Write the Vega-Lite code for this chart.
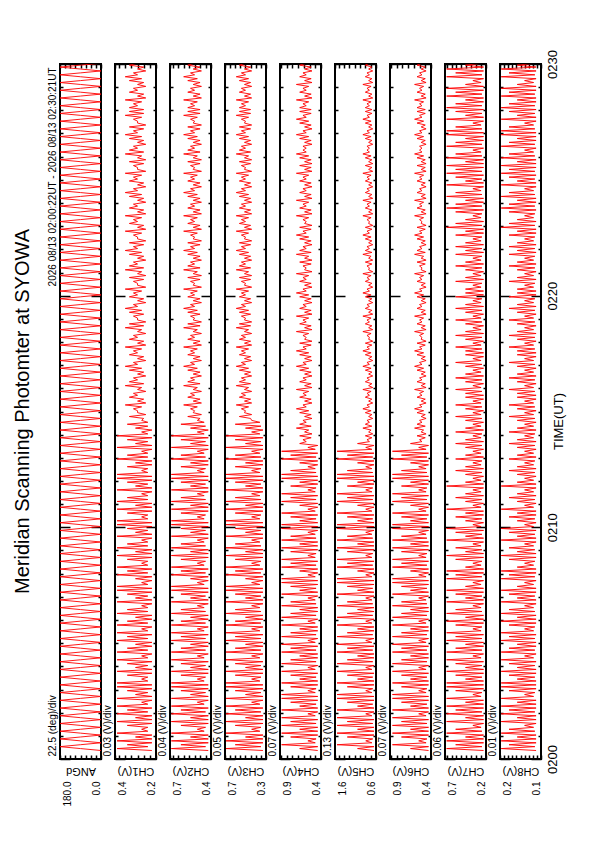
{
  "$schema": "https://vega.github.io/schema/vega-lite/v6.json",
  "background": "white",
  "padding": {"left": 12, "top": 48, "right": 5, "bottom": 5},
  "title": {"text": "Meridian Scanning Photomter at SYOWA", "orient": "left", "anchor": "middle", "frame": "group", "fontSize": 20, "offset": 14},
  "data": {"values": [
{"t":22,"a":0,"c1":0.22,"c2":0.42,"c3":0.33,"c4":0.44,"c5":0.65,"c6":0.43,"c7":0.23,"c8":0.112},
{"t":27,"a":90,"c1":0.39,"c2":0.69,"c3":0.69,"c4":0.66,"c5":1.05,"c6":0.65,"c7":0.68,"c8":0.197},
{"t":32,"a":180,"c1":0.24,"c2":0.44,"c3":0.35,"c4":0.44,"c5":0.65,"c6":0.43,"c7":0.25,"c8":0.115},
{"t":37,"a":90,"c1":0.34,"c2":0.62,"c3":0.60,"c4":0.88,"c5":1.55,"c6":0.87,"c7":0.57,"c8":0.178},
{"t":42,"a":0,"c1":0.22,"c2":0.42,"c3":0.33,"c4":0.47,"c5":0.70,"c6":0.46,"c7":0.23,"c8":0.112},
{"t":47,"a":90,"c1":0.39,"c2":0.69,"c3":0.69,"c4":0.56,"c5":0.85,"c6":0.55,"c7":0.68,"c8":0.197},
{"t":52,"a":180,"c1":0.22,"c2":0.42,"c3":0.33,"c4":0.46,"c5":0.68,"c6":0.45,"c7":0.23,"c8":0.112},
{"t":57,"a":90,"c1":0.30,"c2":0.55,"c3":0.50,"c4":0.77,"c5":1.30,"c6":0.76,"c7":0.45,"c8":0.158},
{"t":62,"a":0,"c1":0.22,"c2":0.42,"c3":0.33,"c4":0.44,"c5":0.65,"c6":0.43,"c7":0.23,"c8":0.112},
{"t":67,"a":90,"c1":0.39,"c2":0.69,"c3":0.69,"c4":0.88,"c5":1.55,"c6":0.87,"c7":0.68,"c8":0.197},
{"t":72,"a":180,"c1":0.24,"c2":0.45,"c3":0.36,"c4":0.44,"c5":0.65,"c6":0.43,"c7":0.25,"c8":0.115},
{"t":77,"a":90,"c1":0.27,"c2":0.50,"c3":0.44,"c4":0.66,"c5":1.05,"c6":0.65,"c7":0.57,"c8":0.178},
{"t":82,"a":0,"c1":0.24,"c2":0.44,"c3":0.35,"c4":0.44,"c5":0.65,"c6":0.43,"c7":0.26,"c8":0.118},
{"t":87,"a":90,"c1":0.34,"c2":0.62,"c3":0.60,"c4":0.88,"c5":1.55,"c6":0.87,"c7":0.36,"c8":0.14},
{"t":92,"a":180,"c1":0.22,"c2":0.42,"c3":0.33,"c4":0.46,"c5":0.68,"c6":0.45,"c7":0.23,"c8":0.112},
{"t":97,"a":90,"c1":0.39,"c2":0.69,"c3":0.69,"c4":0.77,"c5":1.30,"c6":0.76,"c7":0.68,"c8":0.197},
{"t":102,"a":0,"c1":0.22,"c2":0.42,"c3":0.33,"c4":0.44,"c5":0.65,"c6":0.43,"c7":0.23,"c8":0.112},
{"t":107,"a":90,"c1":0.30,"c2":0.55,"c3":0.50,"c4":0.88,"c5":1.55,"c6":0.87,"c7":0.45,"c8":0.158},
{"t":112,"a":180,"c1":0.22,"c2":0.42,"c3":0.33,"c4":0.47,"c5":0.70,"c6":0.46,"c7":0.23,"c8":0.112},
{"t":117,"a":90,"c1":0.39,"c2":0.69,"c3":0.69,"c4":0.56,"c5":0.85,"c6":0.55,"c7":0.68,"c8":0.197},
{"t":122,"a":0,"c1":0.24,"c2":0.44,"c3":0.35,"c4":0.44,"c5":0.65,"c6":0.43,"c7":0.25,"c8":0.115},
{"t":127,"a":90,"c1":0.34,"c2":0.62,"c3":0.60,"c4":0.88,"c5":1.55,"c6":0.87,"c7":0.57,"c8":0.178},
{"t":132,"a":180,"c1":0.22,"c2":0.42,"c3":0.33,"c4":0.44,"c5":0.65,"c6":0.43,"c7":0.23,"c8":0.112},
{"t":137,"a":90,"c1":0.39,"c2":0.69,"c3":0.69,"c4":0.66,"c5":1.05,"c6":0.65,"c7":0.68,"c8":0.197},
{"t":142,"a":0,"c1":0.24,"c2":0.45,"c3":0.36,"c4":0.46,"c5":0.68,"c6":0.45,"c7":0.23,"c8":0.112},
{"t":147,"a":90,"c1":0.27,"c2":0.50,"c3":0.44,"c4":0.77,"c5":1.30,"c6":0.76,"c7":0.45,"c8":0.158},
{"t":152,"a":180,"c1":0.22,"c2":0.42,"c3":0.33,"c4":0.44,"c5":0.65,"c6":0.43,"c7":0.23,"c8":0.112},
{"t":157,"a":90,"c1":0.39,"c2":0.69,"c3":0.69,"c4":0.88,"c5":1.55,"c6":0.87,"c7":0.68,"c8":0.197},
{"t":162,"a":0,"c1":0.22,"c2":0.42,"c3":0.33,"c4":0.44,"c5":0.65,"c6":0.43,"c7":0.26,"c8":0.118},
{"t":167,"a":90,"c1":0.30,"c2":0.55,"c3":0.50,"c4":0.88,"c5":1.55,"c6":0.87,"c7":0.36,"c8":0.14},
{"t":172,"a":180,"c1":0.24,"c2":0.44,"c3":0.35,"c4":0.47,"c5":0.70,"c6":0.46,"c7":0.25,"c8":0.115},
{"t":177,"a":90,"c1":0.34,"c2":0.62,"c3":0.60,"c4":0.56,"c5":0.85,"c6":0.55,"c7":0.57,"c8":0.178},
{"t":182,"a":0,"c1":0.22,"c2":0.42,"c3":0.33,"c4":0.46,"c5":0.68,"c6":0.45,"c7":0.23,"c8":0.112},
{"t":187,"a":90,"c1":0.39,"c2":0.69,"c3":0.69,"c4":0.77,"c5":1.30,"c6":0.76,"c7":0.68,"c8":0.197},
{"t":192,"a":180,"c1":0.22,"c2":0.42,"c3":0.33,"c4":0.44,"c5":0.65,"c6":0.43,"c7":0.23,"c8":0.112},
{"t":197,"a":90,"c1":0.39,"c2":0.69,"c3":0.69,"c4":0.88,"c5":1.55,"c6":0.87,"c7":0.68,"c8":0.197},
{"t":202,"a":0,"c1":0.24,"c2":0.45,"c3":0.36,"c4":0.44,"c5":0.65,"c6":0.43,"c7":0.23,"c8":0.112},
{"t":207,"a":90,"c1":0.27,"c2":0.50,"c3":0.44,"c4":0.66,"c5":1.05,"c6":0.65,"c7":0.45,"c8":0.158},
{"t":212,"a":180,"c1":0.24,"c2":0.44,"c3":0.35,"c4":0.46,"c5":0.68,"c6":0.45,"c7":0.25,"c8":0.115},
{"t":217,"a":90,"c1":0.34,"c2":0.62,"c3":0.60,"c4":0.77,"c5":1.30,"c6":0.76,"c7":0.57,"c8":0.178},
{"t":222,"a":0,"c1":0.22,"c2":0.42,"c3":0.33,"c4":0.44,"c5":0.65,"c6":0.43,"c7":0.23,"c8":0.112},
{"t":227,"a":90,"c1":0.39,"c2":0.69,"c3":0.69,"c4":0.88,"c5":1.55,"c6":0.87,"c7":0.68,"c8":0.197},
{"t":232,"a":180,"c1":0.22,"c2":0.42,"c3":0.33,"c4":0.47,"c5":0.70,"c6":0.46,"c7":0.23,"c8":0.112},
{"t":237,"a":90,"c1":0.30,"c2":0.55,"c3":0.50,"c4":0.56,"c5":0.85,"c6":0.55,"c7":0.45,"c8":0.158},
{"t":242,"a":0,"c1":0.24,"c2":0.44,"c3":0.35,"c4":0.44,"c5":0.65,"c6":0.43,"c7":0.25,"c8":0.115},
{"t":247,"a":90,"c1":0.34,"c2":0.62,"c3":0.60,"c4":0.88,"c5":1.55,"c6":0.87,"c7":0.57,"c8":0.178},
{"t":252,"a":180,"c1":0.22,"c2":0.42,"c3":0.33,"c4":0.46,"c5":0.68,"c6":0.45,"c7":0.23,"c8":0.112},
{"t":257,"a":90,"c1":0.39,"c2":0.69,"c3":0.69,"c4":0.77,"c5":1.30,"c6":0.76,"c7":0.68,"c8":0.197},
{"t":262,"a":0,"c1":0.24,"c2":0.45,"c3":0.36,"c4":0.44,"c5":0.65,"c6":0.43,"c7":0.26,"c8":0.118},
{"t":267,"a":90,"c1":0.27,"c2":0.50,"c3":0.44,"c4":0.66,"c5":1.05,"c6":0.65,"c7":0.36,"c8":0.14},
{"t":272,"a":180,"c1":0.22,"c2":0.42,"c3":0.33,"c4":0.44,"c5":0.65,"c6":0.43,"c7":0.23,"c8":0.112},
{"t":277,"a":90,"c1":0.39,"c2":0.69,"c3":0.69,"c4":0.88,"c5":1.55,"c6":0.87,"c7":0.68,"c8":0.197},
{"t":282,"a":0,"c1":0.24,"c2":0.44,"c3":0.35,"c4":0.46,"c5":0.68,"c6":0.45,"c7":0.25,"c8":0.115},
{"t":287,"a":90,"c1":0.34,"c2":0.62,"c3":0.60,"c4":0.77,"c5":1.30,"c6":0.76,"c7":0.57,"c8":0.178},
{"t":292,"a":180,"c1":0.22,"c2":0.42,"c3":0.33,"c4":0.44,"c5":0.65,"c6":0.43,"c7":0.23,"c8":0.112},
{"t":297,"a":90,"c1":0.30,"c2":0.55,"c3":0.50,"c4":0.88,"c5":1.55,"c6":0.87,"c7":0.45,"c8":0.158},
{"t":302,"a":0,"c1":0.22,"c2":0.42,"c3":0.33,"c4":0.47,"c5":0.70,"c6":0.46,"c7":0.23,"c8":0.112},
{"t":307,"a":90,"c1":0.39,"c2":0.69,"c3":0.69,"c4":0.56,"c5":0.85,"c6":0.55,"c7":0.68,"c8":0.197},
{"t":312,"a":180,"c1":0.24,"c2":0.44,"c3":0.35,"c4":0.44,"c5":0.65,"c6":0.43,"c7":0.25,"c8":0.115},
{"t":317,"a":90,"c1":0.34,"c2":0.62,"c3":0.60,"c4":0.88,"c5":1.55,"c6":0.87,"c7":0.57,"c8":0.178},
{"t":322,"a":0,"c1":0.22,"c2":0.42,"c3":0.33,"c4":0.46,"c5":0.68,"c6":0.45,"c7":0.23,"c8":0.112},
{"t":327,"a":90,"c1":0.39,"c2":0.69,"c3":0.69,"c4":0.77,"c5":1.30,"c6":0.76,"c7":0.68,"c8":0.197},
{"t":332,"a":180,"c1":0.24,"c2":0.45,"c3":0.36,"c4":0.44,"c5":0.65,"c6":0.43,"c7":0.26,"c8":0.118},
{"t":337,"a":90,"c1":0.27,"c2":0.50,"c3":0.44,"c4":0.66,"c5":1.05,"c6":0.65,"c7":0.36,"c8":0.14},
{"t":342,"a":0,"c1":0.22,"c2":0.42,"c3":0.33,"c4":0.44,"c5":0.65,"c6":0.43,"c7":0.25,"c8":0.115},
{"t":347,"a":90,"c1":0.39,"c2":0.69,"c3":0.69,"c4":0.88,"c5":1.55,"c6":0.87,"c7":0.57,"c8":0.178},
{"t":352,"a":180,"c1":0.24,"c2":0.44,"c3":0.35,"c4":0.47,"c5":0.70,"c6":0.46,"c7":0.23,"c8":0.112},
{"t":357,"a":90,"c1":0.34,"c2":0.62,"c3":0.60,"c4":0.56,"c5":0.85,"c6":0.55,"c7":0.68,"c8":0.197},
{"t":362,"a":0,"c1":0.22,"c2":0.42,"c3":0.33,"c4":0.44,"c5":0.65,"c6":0.43,"c7":0.23,"c8":0.112},
{"t":367,"a":90,"c1":0.30,"c2":0.55,"c3":0.50,"c4":0.88,"c5":1.55,"c6":0.87,"c7":0.45,"c8":0.158},
{"t":372,"a":180,"c1":0.22,"c2":0.42,"c3":0.33,"c4":0.46,"c5":0.68,"c6":0.45,"c7":0.23,"c8":0.112},
{"t":377,"a":90,"c1":0.39,"c2":0.69,"c3":0.69,"c4":0.77,"c5":1.30,"c6":0.76,"c7":0.68,"c8":0.197},
{"t":382,"a":0,"c1":0.24,"c2":0.44,"c3":0.35,"c4":0.44,"c5":0.65,"c6":0.43,"c7":0.25,"c8":0.115},
{"t":387,"a":90,"c1":0.34,"c2":0.62,"c3":0.60,"c4":0.66,"c5":1.05,"c6":0.65,"c7":0.57,"c8":0.178},
{"t":392,"a":180,"c1":0.24,"c2":0.45,"c3":0.36,"c4":0.44,"c5":0.65,"c6":0.43,"c7":0.26,"c8":0.118},
{"t":397,"a":90,"c1":0.27,"c2":0.50,"c3":0.44,"c4":0.88,"c5":1.55,"c6":0.87,"c7":0.36,"c8":0.14},
{"t":402,"a":0,"c1":0.22,"c2":0.42,"c3":0.33,"c4":0.46,"c5":0.68,"c6":0.45,"c7":0.23,"c8":0.112},
{"t":407,"a":90,"c1":0.39,"c2":0.69,"c3":0.69,"c4":0.77,"c5":1.30,"c6":0.76,"c7":0.68,"c8":0.197},
{"t":412,"a":180,"c1":0.22,"c2":0.42,"c3":0.33,"c4":0.47,"c5":0.70,"c6":0.46,"c7":0.23,"c8":0.112},
{"t":417,"a":90,"c1":0.30,"c2":0.55,"c3":0.50,"c4":0.56,"c5":0.85,"c6":0.55,"c7":0.45,"c8":0.158},
{"t":422,"a":0,"c1":0.24,"c2":0.44,"c3":0.35,"c4":0.44,"c5":0.65,"c6":0.43,"c7":0.25,"c8":0.115},
{"t":427,"a":90,"c1":0.34,"c2":0.62,"c3":0.60,"c4":0.88,"c5":1.55,"c6":0.87,"c7":0.57,"c8":0.178},
{"t":432,"a":180,"c1":0.22,"c2":0.42,"c3":0.33,"c4":0.44,"c5":0.65,"c6":0.43,"c7":0.23,"c8":0.112},
{"t":437,"a":90,"c1":0.39,"c2":0.69,"c3":0.69,"c4":0.66,"c5":1.05,"c6":0.65,"c7":0.68,"c8":0.197},
{"t":442,"a":0,"c1":0.22,"c2":0.42,"c3":0.33,"c4":0.46,"c5":0.68,"c6":0.45,"c7":0.23,"c8":0.112},
{"t":447,"a":90,"c1":0.39,"c2":0.69,"c3":0.69,"c4":0.77,"c5":1.30,"c6":0.76,"c7":0.45,"c8":0.158},
{"t":452,"a":180,"c1":0.24,"c2":0.45,"c3":0.36,"c4":0.44,"c5":0.65,"c6":0.43,"c7":0.26,"c8":0.118},
{"t":457,"a":90,"c1":0.27,"c2":0.50,"c3":0.44,"c4":0.88,"c5":1.55,"c6":0.87,"c7":0.36,"c8":0.14},
{"t":462,"a":0,"c1":0.22,"c2":0.42,"c3":0.33,"c4":0.44,"c5":0.65,"c6":0.43,"c7":0.23,"c8":0.112},
{"t":467,"a":90,"c1":0.30,"c2":0.55,"c3":0.50,"c4":0.88,"c5":1.55,"c6":0.87,"c7":0.68,"c8":0.197},
{"t":472,"a":180,"c1":0.22,"c2":0.42,"c3":0.33,"c4":0.47,"c5":0.70,"c6":0.46,"c7":0.25,"c8":0.115},
{"t":477,"a":90,"c1":0.39,"c2":0.69,"c3":0.69,"c4":0.56,"c5":0.85,"c6":0.55,"c7":0.57,"c8":0.178},
{"t":482,"a":0,"c1":0.24,"c2":0.44,"c3":0.35,"c4":0.44,"c5":0.65,"c6":0.43,"c7":0.23,"c8":0.112},
{"t":487,"a":90,"c1":0.34,"c2":0.62,"c3":0.60,"c4":0.66,"c5":1.05,"c6":0.65,"c7":0.68,"c8":0.197},
{"t":492,"a":180,"c1":0.22,"c2":0.42,"c3":0.33,"c4":0.44,"c5":0.65,"c6":0.43,"c7":0.23,"c8":0.112},
{"t":497,"a":90,"c1":0.39,"c2":0.69,"c3":0.69,"c4":0.88,"c5":1.55,"c6":0.87,"c7":0.45,"c8":0.158},
{"t":502,"a":0,"c1":0.24,"c2":0.45,"c3":0.36,"c4":0.46,"c5":0.68,"c6":0.45,"c7":0.26,"c8":0.118},
{"t":507,"a":90,"c1":0.27,"c2":0.50,"c3":0.44,"c4":0.77,"c5":1.30,"c6":0.76,"c7":0.36,"c8":0.14},
{"t":512,"a":180,"c1":0.24,"c2":0.44,"c3":0.35,"c4":0.44,"c5":0.65,"c6":0.43,"c7":0.25,"c8":0.115},
{"t":517,"a":90,"c1":0.34,"c2":0.62,"c3":0.60,"c4":0.88,"c5":1.55,"c6":0.87,"c7":0.57,"c8":0.178},
{"t":522,"a":0,"c1":0.22,"c2":0.42,"c3":0.33,"c4":0.47,"c5":0.70,"c6":0.46,"c7":0.23,"c8":0.112},
{"t":527,"a":90,"c1":0.39,"c2":0.69,"c3":0.69,"c4":0.56,"c5":0.85,"c6":0.55,"c7":0.68,"c8":0.197},
{"t":532,"a":180,"c1":0.22,"c2":0.42,"c3":0.33,"c4":0.46,"c5":0.68,"c6":0.45,"c7":0.23,"c8":0.112},
{"t":537,"a":90,"c1":0.30,"c2":0.55,"c3":0.50,"c4":0.77,"c5":1.30,"c6":0.76,"c7":0.45,"c8":0.158},
{"t":542,"a":0,"c1":0.22,"c2":0.42,"c3":0.33,"c4":0.44,"c5":0.65,"c6":0.43,"c7":0.25,"c8":0.115},
{"t":547,"a":90,"c1":0.39,"c2":0.69,"c3":0.69,"c4":0.88,"c5":1.55,"c6":0.87,"c7":0.57,"c8":0.178},
{"t":552,"a":180,"c1":0.24,"c2":0.44,"c3":0.35,"c4":0.44,"c5":0.65,"c6":0.43,"c7":0.26,"c8":0.118},
{"t":557,"a":90,"c1":0.34,"c2":0.62,"c3":0.60,"c4":0.66,"c5":1.05,"c6":0.65,"c7":0.36,"c8":0.14},
{"t":562,"a":0,"c1":0.24,"c2":0.45,"c3":0.36,"c4":0.44,"c5":0.65,"c6":0.43,"c7":0.23,"c8":0.112},
{"t":567,"a":90,"c1":0.27,"c2":0.50,"c3":0.44,"c4":0.88,"c5":1.55,"c6":0.87,"c7":0.68,"c8":0.197},
{"t":572,"a":180,"c1":0.22,"c2":0.42,"c3":0.33,"c4":0.46,"c5":0.68,"c6":0.45,"c7":0.23,"c8":0.112},
{"t":577,"a":90,"c1":0.39,"c2":0.69,"c3":0.69,"c4":0.77,"c5":1.30,"c6":0.76,"c7":0.45,"c8":0.158},
{"t":582,"a":0,"c1":0.22,"c2":0.42,"c3":0.33,"c4":0.47,"c5":0.70,"c6":0.46,"c7":0.25,"c8":0.115},
{"t":587,"a":90,"c1":0.30,"c2":0.55,"c3":0.50,"c4":0.56,"c5":0.85,"c6":0.55,"c7":0.57,"c8":0.178},
{"t":592,"a":180,"c1":0.24,"c2":0.44,"c3":0.35,"c4":0.44,"c5":0.65,"c6":0.43,"c7":0.23,"c8":0.112},
{"t":597,"a":90,"c1":0.34,"c2":0.62,"c3":0.60,"c4":0.88,"c5":1.55,"c6":0.87,"c7":0.68,"c8":0.197},
{"t":602,"a":0,"c1":0.22,"c2":0.42,"c3":0.33,"c4":0.44,"c5":0.65,"c6":0.43,"c7":0.26,"c8":0.118},
{"t":607,"a":90,"c1":0.39,"c2":0.69,"c3":0.69,"c4":0.88,"c5":1.55,"c6":0.87,"c7":0.36,"c8":0.14},
{"t":612,"a":180,"c1":0.22,"c2":0.42,"c3":0.33,"c4":0.44,"c5":0.65,"c6":0.43,"c7":0.23,"c8":0.112},
{"t":617,"a":90,"c1":0.39,"c2":0.69,"c3":0.69,"c4":0.66,"c5":1.05,"c6":0.65,"c7":0.45,"c8":0.158},
{"t":622,"a":0,"c1":0.24,"c2":0.45,"c3":0.36,"c4":0.46,"c5":0.68,"c6":0.45,"c7":0.25,"c8":0.115},
{"t":627,"a":90,"c1":0.27,"c2":0.50,"c3":0.44,"c4":0.77,"c5":1.30,"c6":0.76,"c7":0.57,"c8":0.178},
{"t":632,"a":180,"c1":0.24,"c2":0.44,"c3":0.35,"c4":0.44,"c5":0.65,"c6":0.43,"c7":0.23,"c8":0.112},
{"t":637,"a":90,"c1":0.34,"c2":0.62,"c3":0.60,"c4":0.88,"c5":1.55,"c6":0.87,"c7":0.45,"c8":0.158},
{"t":642,"a":0,"c1":0.22,"c2":0.42,"c3":0.33,"c4":0.47,"c5":0.70,"c6":0.46,"c7":0.23,"c8":0.112},
{"t":647,"a":90,"c1":0.39,"c2":0.69,"c3":0.69,"c4":0.56,"c5":0.85,"c6":0.55,"c7":0.68,"c8":0.197},
{"t":652,"a":180,"c1":0.22,"c2":0.42,"c3":0.33,"c4":0.44,"c5":0.65,"c6":0.43,"c7":0.26,"c8":0.118},
{"t":657,"a":90,"c1":0.30,"c2":0.55,"c3":0.50,"c4":0.66,"c5":1.05,"c6":0.65,"c7":0.36,"c8":0.14},
{"t":662,"a":0,"c1":0.22,"c2":0.42,"c3":0.33,"c4":0.44,"c5":0.65,"c6":0.43,"c7":0.23,"c8":0.112},
{"t":667,"a":90,"c1":0.39,"c2":0.69,"c3":0.69,"c4":0.88,"c5":1.55,"c6":0.87,"c7":0.45,"c8":0.158},
{"t":672,"a":180,"c1":0.24,"c2":0.44,"c3":0.35,"c4":0.46,"c5":0.68,"c6":0.45,"c7":0.25,"c8":0.115},
{"t":677,"a":90,"c1":0.34,"c2":0.62,"c3":0.60,"c4":0.77,"c5":1.30,"c6":0.76,"c7":0.57,"c8":0.178},
{"t":682,"a":0,"c1":0.24,"c2":0.45,"c3":0.36,"c4":0.44,"c5":0.65,"c6":0.43,"c7":0.23,"c8":0.112},
{"t":687,"a":90,"c1":0.27,"c2":0.50,"c3":0.44,"c4":0.88,"c5":1.55,"c6":0.87,"c7":0.45,"c8":0.158},
{"t":692,"a":180,"c1":0.22,"c2":0.42,"c3":0.33,"c4":0.47,"c5":0.70,"c6":0.46,"c7":0.26,"c8":0.118},
{"t":697,"a":90,"c1":0.39,"c2":0.69,"c3":0.69,"c4":0.56,"c5":0.85,"c6":0.55,"c7":0.36,"c8":0.14},
{"t":702,"a":0,"c1":0.22,"c2":0.42,"c3":0.33,"c4":0.46,"c5":0.68,"c6":0.45,"c7":0.23,"c8":0.112},
{"t":707,"a":90,"c1":0.30,"c2":0.55,"c3":0.50,"c4":0.77,"c5":1.30,"c6":0.76,"c7":0.68,"c8":0.197},
{"t":712,"a":180,"c1":0.24,"c2":0.44,"c3":0.35,"c4":0.44,"c5":0.65,"c6":0.43,"c7":0.23,"c8":0.112},
{"t":717,"a":90,"c1":0.34,"c2":0.62,"c3":0.60,"c4":0.66,"c5":1.05,"c6":0.65,"c7":0.45,"c8":0.158},
{"t":722,"a":0,"c1":0.22,"c2":0.42,"c3":0.33,"c4":0.44,"c5":0.65,"c6":0.43,"c7":0.26,"c8":0.118},
{"t":727,"a":90,"c1":0.39,"c2":0.69,"c3":0.69,"c4":0.88,"c5":1.55,"c6":0.87,"c7":0.36,"c8":0.14},
{"t":732,"a":180,"c1":0.22,"c2":0.42,"c3":0.33,"c4":0.44,"c5":0.65,"c6":0.43,"c7":0.23,"c8":0.112},
{"t":737,"a":90,"c1":0.39,"c2":0.69,"c3":0.69,"c4":0.88,"c5":1.55,"c6":0.87,"c7":0.45,"c8":0.158},
{"t":742,"a":0,"c1":0.24,"c2":0.45,"c3":0.36,"c4":0.46,"c5":0.68,"c6":0.45,"c7":0.25,"c8":0.115},
{"t":747,"a":90,"c1":0.27,"c2":0.50,"c3":0.44,"c4":0.77,"c5":1.30,"c6":0.76,"c7":0.57,"c8":0.178},
{"t":752,"a":180,"c1":0.24,"c2":0.44,"c3":0.35,"c4":0.47,"c5":0.70,"c6":0.46,"c7":0.23,"c8":0.112},
{"t":757,"a":90,"c1":0.34,"c2":0.62,"c3":0.60,"c4":0.56,"c5":0.85,"c6":0.55,"c7":0.45,"c8":0.158},
{"t":762,"a":0,"c1":0.22,"c2":0.42,"c3":0.33,"c4":0.44,"c5":0.65,"c6":0.43,"c7":0.26,"c8":0.118},
{"t":767,"a":90,"c1":0.30,"c2":0.55,"c3":0.50,"c4":0.66,"c5":1.05,"c6":0.65,"c7":0.36,"c8":0.14},
{"t":772,"a":180,"c1":0.22,"c2":0.42,"c3":0.33,"c4":0.44,"c5":0.65,"c6":0.43,"c7":0.25,"c8":0.115},
{"t":777,"a":90,"c1":0.39,"c2":0.69,"c3":0.69,"c4":0.88,"c5":1.55,"c6":0.87,"c7":0.57,"c8":0.178},
{"t":782,"a":0,"c1":0.24,"c2":0.44,"c3":0.35,"c4":0.46,"c5":0.68,"c6":0.45,"c7":0.23,"c8":0.112},
{"t":787,"a":90,"c1":0.34,"c2":0.62,"c3":0.60,"c4":0.77,"c5":1.30,"c6":0.76,"c7":0.45,"c8":0.158},
{"t":792,"a":180,"c1":0.24,"c2":0.45,"c3":0.36,"c4":0.44,"c5":0.65,"c6":0.43,"c7":0.26,"c8":0.118},
{"t":797,"a":90,"c1":0.27,"c2":0.50,"c3":0.44,"c4":0.88,"c5":1.55,"c6":0.87,"c7":0.36,"c8":0.14},
{"t":802,"a":0,"c1":0.22,"c2":0.42,"c3":0.33,"c4":0.47,"c5":0.70,"c6":0.46,"c7":0.23,"c8":0.112},
{"t":807,"a":90,"c1":0.39,"c2":0.69,"c3":0.69,"c4":0.56,"c5":0.85,"c6":0.55,"c7":0.45,"c8":0.158},
{"t":812,"a":180,"c1":0.22,"c2":0.42,"c3":0.33,"c4":0.44,"c5":0.65,"c6":0.43,"c7":0.25,"c8":0.115},
{"t":817,"a":90,"c1":0.30,"c2":0.55,"c3":0.50,"c4":0.66,"c5":1.05,"c6":0.65,"c7":0.57,"c8":0.178},
{"t":822,"a":0,"c1":0.24,"c2":0.44,"c3":0.35,"c4":0.58,"c5":0.76,"c6":0.51,"c7":0.23,"c8":0.112},
{"t":827,"a":90,"c1":0.34,"c2":0.62,"c3":0.60,"c4":0.62,"c5":0.82,"c6":0.54,"c7":0.45,"c8":0.158},
{"t":832,"a":180,"c1":0.22,"c2":0.42,"c3":0.33,"c4":0.52,"c5":0.70,"c6":0.47,"c7":0.26,"c8":0.118},
{"t":837,"a":90,"c1":0.39,"c2":0.69,"c3":0.69,"c4":0.66,"c5":0.86,"c6":0.57,"c7":0.36,"c8":0.14},
{"t":842,"a":0,"c1":0.24,"c2":0.45,"c3":0.36,"c4":0.51,"c5":0.68,"c6":0.46,"c7":0.25,"c8":0.115},
{"t":847,"a":90,"c1":0.27,"c2":0.50,"c3":0.44,"c4":0.60,"c5":0.78,"c6":0.52,"c7":0.57,"c8":0.178},
{"t":852,"a":180,"c1":0.22,"c2":0.42,"c3":0.33,"c4":0.55,"c5":0.72,"c6":0.49,"c7":0.23,"c8":0.112},
{"t":857,"a":90,"c1":0.30,"c2":0.55,"c3":0.50,"c4":0.70,"c5":0.92,"c6":0.60,"c7":0.45,"c8":0.158},
{"t":862,"a":0,"c1":0.24,"c2":0.44,"c3":0.35,"c4":0.52,"c5":0.70,"c6":0.47,"c7":0.26,"c8":0.118},
{"t":867,"a":90,"c1":0.34,"c2":0.62,"c3":0.60,"c4":0.66,"c5":0.86,"c6":0.57,"c7":0.36,"c8":0.14},
{"t":872,"a":180,"c1":0.24,"c2":0.45,"c3":0.36,"c4":0.58,"c5":0.76,"c6":0.51,"c7":0.23,"c8":0.112},
{"t":877,"a":90,"c1":0.27,"c2":0.50,"c3":0.44,"c4":0.62,"c5":0.82,"c6":0.54,"c7":0.45,"c8":0.158},
{"t":882,"a":0,"c1":0.26,"c2":0.48,"c3":0.45,"c4":0.51,"c5":0.68,"c6":0.46,"c7":0.25,"c8":0.115},
{"t":887,"a":90,"c1":0.33,"c2":0.57,"c3":0.56,"c4":0.60,"c5":0.78,"c6":0.52,"c7":0.57,"c8":0.178},
{"t":892,"a":180,"c1":0.25,"c2":0.47,"c3":0.44,"c4":0.52,"c5":0.70,"c6":0.47,"c7":0.26,"c8":0.118},
{"t":897,"a":90,"c1":0.29,"c2":0.53,"c3":0.51,"c4":0.66,"c5":0.86,"c6":0.57,"c7":0.36,"c8":0.14},
{"t":902,"a":0,"c1":0.29,"c2":0.52,"c3":0.50,"c4":0.55,"c5":0.72,"c6":0.49,"c7":0.23,"c8":0.112},
{"t":907,"a":90,"c1":0.31,"c2":0.55,"c3":0.54,"c4":0.70,"c5":0.92,"c6":0.60,"c7":0.45,"c8":0.158},
{"t":912,"a":180,"c1":0.27,"c2":0.50,"c3":0.47,"c4":0.58,"c5":0.76,"c6":0.51,"c7":0.25,"c8":0.115},
{"t":917,"a":90,"c1":0.35,"c2":0.60,"c3":0.59,"c4":0.62,"c5":0.82,"c6":0.54,"c7":0.57,"c8":0.178},
{"t":922,"a":0,"c1":0.25,"c2":0.47,"c3":0.44,"c4":0.51,"c5":0.68,"c6":0.46,"c7":0.26,"c8":0.118},
{"t":927,"a":90,"c1":0.29,"c2":0.53,"c3":0.51,"c4":0.60,"c5":0.78,"c6":0.52,"c7":0.36,"c8":0.14},
{"t":932,"a":180,"c1":0.26,"c2":0.48,"c3":0.45,"c4":0.52,"c5":0.70,"c6":0.47,"c7":0.23,"c8":0.112},
{"t":937,"a":90,"c1":0.33,"c2":0.57,"c3":0.56,"c4":0.66,"c5":0.86,"c6":0.57,"c7":0.45,"c8":0.158},
{"t":942,"a":0,"c1":0.29,"c2":0.52,"c3":0.50,"c4":0.58,"c5":0.76,"c6":0.51,"c7":0.23,"c8":0.112},
{"t":947,"a":90,"c1":0.31,"c2":0.55,"c3":0.54,"c4":0.62,"c5":0.82,"c6":0.54,"c7":0.45,"c8":0.158},
{"t":952,"a":180,"c1":0.25,"c2":0.47,"c3":0.44,"c4":0.55,"c5":0.72,"c6":0.49,"c7":0.25,"c8":0.115},
{"t":957,"a":90,"c1":0.29,"c2":0.53,"c3":0.51,"c4":0.70,"c5":0.92,"c6":0.60,"c7":0.57,"c8":0.178},
{"t":962,"a":0,"c1":0.27,"c2":0.50,"c3":0.47,"c4":0.51,"c5":0.68,"c6":0.46,"c7":0.26,"c8":0.118},
{"t":967,"a":90,"c1":0.35,"c2":0.60,"c3":0.59,"c4":0.60,"c5":0.78,"c6":0.52,"c7":0.36,"c8":0.14},
{"t":972,"a":180,"c1":0.26,"c2":0.48,"c3":0.45,"c4":0.52,"c5":0.70,"c6":0.47,"c7":0.23,"c8":0.112},
{"t":977,"a":90,"c1":0.33,"c2":0.57,"c3":0.56,"c4":0.66,"c5":0.86,"c6":0.57,"c7":0.45,"c8":0.158},
{"t":982,"a":0,"c1":0.29,"c2":0.52,"c3":0.50,"c4":0.58,"c5":0.76,"c6":0.51,"c7":0.25,"c8":0.115},
{"t":987,"a":90,"c1":0.31,"c2":0.55,"c3":0.54,"c4":0.62,"c5":0.82,"c6":0.54,"c7":0.57,"c8":0.178},
{"t":992,"a":180,"c1":0.25,"c2":0.47,"c3":0.44,"c4":0.51,"c5":0.68,"c6":0.46,"c7":0.23,"c8":0.112},
{"t":997,"a":90,"c1":0.29,"c2":0.53,"c3":0.51,"c4":0.60,"c5":0.78,"c6":0.52,"c7":0.45,"c8":0.158},
{"t":1002,"a":0,"c1":0.26,"c2":0.48,"c3":0.45,"c4":0.52,"c5":0.70,"c6":0.47,"c7":0.26,"c8":0.118},
{"t":1007,"a":90,"c1":0.33,"c2":0.57,"c3":0.56,"c4":0.66,"c5":0.86,"c6":0.57,"c7":0.36,"c8":0.14},
{"t":1012,"a":180,"c1":0.27,"c2":0.50,"c3":0.47,"c4":0.55,"c5":0.72,"c6":0.49,"c7":0.23,"c8":0.112},
{"t":1017,"a":90,"c1":0.35,"c2":0.60,"c3":0.59,"c4":0.70,"c5":0.92,"c6":0.60,"c7":0.45,"c8":0.158},
{"t":1022,"a":0,"c1":0.29,"c2":0.52,"c3":0.50,"c4":0.58,"c5":0.76,"c6":0.51,"c7":0.25,"c8":0.115},
{"t":1027,"a":90,"c1":0.31,"c2":0.55,"c3":0.54,"c4":0.62,"c5":0.82,"c6":0.54,"c7":0.57,"c8":0.178},
{"t":1032,"a":180,"c1":0.25,"c2":0.47,"c3":0.44,"c4":0.51,"c5":0.68,"c6":0.46,"c7":0.26,"c8":0.118},
{"t":1037,"a":90,"c1":0.29,"c2":0.53,"c3":0.51,"c4":0.60,"c5":0.78,"c6":0.52,"c7":0.36,"c8":0.14},
{"t":1042,"a":0,"c1":0.26,"c2":0.48,"c3":0.45,"c4":0.52,"c5":0.70,"c6":0.47,"c7":0.23,"c8":0.112},
{"t":1047,"a":90,"c1":0.33,"c2":0.57,"c3":0.56,"c4":0.66,"c5":0.86,"c6":0.57,"c7":0.45,"c8":0.158},
{"t":1052,"a":180,"c1":0.29,"c2":0.52,"c3":0.50,"c4":0.55,"c5":0.72,"c6":0.49,"c7":0.23,"c8":0.112},
{"t":1057,"a":90,"c1":0.31,"c2":0.55,"c3":0.54,"c4":0.70,"c5":0.92,"c6":0.60,"c7":0.45,"c8":0.158},
{"t":1062,"a":0,"c1":0.27,"c2":0.50,"c3":0.47,"c4":0.58,"c5":0.76,"c6":0.51,"c7":0.25,"c8":0.115},
{"t":1067,"a":90,"c1":0.35,"c2":0.60,"c3":0.59,"c4":0.62,"c5":0.82,"c6":0.54,"c7":0.57,"c8":0.178},
{"t":1072,"a":180,"c1":0.25,"c2":0.47,"c3":0.44,"c4":0.52,"c5":0.70,"c6":0.47,"c7":0.26,"c8":0.118},
{"t":1077,"a":90,"c1":0.29,"c2":0.53,"c3":0.51,"c4":0.66,"c5":0.86,"c6":0.57,"c7":0.36,"c8":0.14},
{"t":1082,"a":0,"c1":0.26,"c2":0.48,"c3":0.45,"c4":0.51,"c5":0.68,"c6":0.46,"c7":0.23,"c8":0.112},
{"t":1087,"a":90,"c1":0.33,"c2":0.57,"c3":0.56,"c4":0.60,"c5":0.78,"c6":0.52,"c7":0.45,"c8":0.158},
{"t":1092,"a":180,"c1":0.29,"c2":0.52,"c3":0.50,"c4":0.58,"c5":0.76,"c6":0.51,"c7":0.25,"c8":0.115},
{"t":1097,"a":90,"c1":0.31,"c2":0.55,"c3":0.54,"c4":0.62,"c5":0.82,"c6":0.54,"c7":0.57,"c8":0.178},
{"t":1102,"a":0,"c1":0.25,"c2":0.47,"c3":0.44,"c4":0.55,"c5":0.72,"c6":0.49,"c7":0.23,"c8":0.112},
{"t":1107,"a":90,"c1":0.29,"c2":0.53,"c3":0.51,"c4":0.70,"c5":0.92,"c6":0.60,"c7":0.45,"c8":0.158},
{"t":1112,"a":180,"c1":0.27,"c2":0.50,"c3":0.47,"c4":0.51,"c5":0.68,"c6":0.46,"c7":0.26,"c8":0.118},
{"t":1117,"a":90,"c1":0.35,"c2":0.60,"c3":0.59,"c4":0.60,"c5":0.78,"c6":0.52,"c7":0.36,"c8":0.14},
{"t":1122,"a":0,"c1":0.26,"c2":0.48,"c3":0.45,"c4":0.52,"c5":0.70,"c6":0.47,"c7":0.23,"c8":0.112},
{"t":1127,"a":90,"c1":0.33,"c2":0.57,"c3":0.56,"c4":0.66,"c5":0.86,"c6":0.57,"c7":0.45,"c8":0.158},
{"t":1132,"a":180,"c1":0.25,"c2":0.47,"c3":0.44,"c4":0.58,"c5":0.76,"c6":0.51,"c7":0.25,"c8":0.115},
{"t":1137,"a":90,"c1":0.29,"c2":0.53,"c3":0.51,"c4":0.62,"c5":0.82,"c6":0.54,"c7":0.57,"c8":0.178},
{"t":1142,"a":0,"c1":0.29,"c2":0.52,"c3":0.50,"c4":0.55,"c5":0.72,"c6":0.49,"c7":0.26,"c8":0.118},
{"t":1147,"a":90,"c1":0.31,"c2":0.55,"c3":0.54,"c4":0.70,"c5":0.92,"c6":0.60,"c7":0.36,"c8":0.14},
{"t":1152,"a":180,"c1":0.26,"c2":0.48,"c3":0.45,"c4":0.51,"c5":0.68,"c6":0.46,"c7":0.23,"c8":0.112},
{"t":1157,"a":90,"c1":0.33,"c2":0.57,"c3":0.56,"c4":0.60,"c5":0.78,"c6":0.52,"c7":0.45,"c8":0.158},
{"t":1162,"a":0,"c1":0.27,"c2":0.50,"c3":0.47,"c4":0.52,"c5":0.70,"c6":0.47,"c7":0.25,"c8":0.115},
{"t":1167,"a":90,"c1":0.35,"c2":0.60,"c3":0.59,"c4":0.66,"c5":0.86,"c6":0.57,"c7":0.57,"c8":0.178},
{"t":1172,"a":180,"c1":0.29,"c2":0.52,"c3":0.50,"c4":0.58,"c5":0.76,"c6":0.51,"c7":0.23,"c8":0.112},
{"t":1177,"a":90,"c1":0.31,"c2":0.55,"c3":0.54,"c4":0.62,"c5":0.82,"c6":0.54,"c7":0.45,"c8":0.158},
{"t":1182,"a":0,"c1":0.25,"c2":0.47,"c3":0.44,"c4":0.51,"c5":0.68,"c6":0.46,"c7":0.26,"c8":0.118},
{"t":1187,"a":90,"c1":0.29,"c2":0.53,"c3":0.51,"c4":0.60,"c5":0.78,"c6":0.52,"c7":0.36,"c8":0.14},
{"t":1192,"a":180,"c1":0.26,"c2":0.48,"c3":0.45,"c4":0.52,"c5":0.70,"c6":0.47,"c7":0.25,"c8":0.115},
{"t":1197,"a":90,"c1":0.33,"c2":0.57,"c3":0.56,"c4":0.66,"c5":0.86,"c6":0.57,"c7":0.57,"c8":0.178},
{"t":1202,"a":0,"c1":0.29,"c2":0.52,"c3":0.50,"c4":0.55,"c5":0.72,"c6":0.49,"c7":0.23,"c8":0.112},
{"t":1207,"a":90,"c1":0.31,"c2":0.55,"c3":0.54,"c4":0.70,"c5":0.92,"c6":0.60,"c7":0.45,"c8":0.158},
{"t":1212,"a":180,"c1":0.27,"c2":0.50,"c3":0.47,"c4":0.58,"c5":0.76,"c6":0.51,"c7":0.23,"c8":0.112},
{"t":1217,"a":90,"c1":0.35,"c2":0.60,"c3":0.59,"c4":0.62,"c5":0.82,"c6":0.54,"c7":0.45,"c8":0.158},
{"t":1222,"a":0,"c1":0.25,"c2":0.47,"c3":0.44,"c4":0.51,"c5":0.68,"c6":0.46,"c7":0.26,"c8":0.118},
{"t":1227,"a":90,"c1":0.29,"c2":0.53,"c3":0.51,"c4":0.60,"c5":0.78,"c6":0.52,"c7":0.36,"c8":0.14},
{"t":1232,"a":180,"c1":0.29,"c2":0.52,"c3":0.50,"c4":0.52,"c5":0.70,"c6":0.47,"c7":0.25,"c8":0.115},
{"t":1237,"a":90,"c1":0.31,"c2":0.55,"c3":0.54,"c4":0.66,"c5":0.86,"c6":0.57,"c7":0.57,"c8":0.178},
{"t":1242,"a":0,"c1":0.26,"c2":0.48,"c3":0.45,"c4":0.58,"c5":0.76,"c6":0.51,"c7":0.23,"c8":0.112},
{"t":1247,"a":90,"c1":0.33,"c2":0.57,"c3":0.56,"c4":0.62,"c5":0.82,"c6":0.54,"c7":0.45,"c8":0.158},
{"t":1252,"a":180,"c1":0.25,"c2":0.47,"c3":0.44,"c4":0.55,"c5":0.72,"c6":0.49,"c7":0.26,"c8":0.118},
{"t":1257,"a":90,"c1":0.29,"c2":0.53,"c3":0.51,"c4":0.70,"c5":0.92,"c6":0.60,"c7":0.36,"c8":0.14},
{"t":1262,"a":0,"c1":0.27,"c2":0.50,"c3":0.47,"c4":0.51,"c5":0.68,"c6":0.46,"c7":0.23,"c8":0.112},
{"t":1267,"a":90,"c1":0.35,"c2":0.60,"c3":0.59,"c4":0.60,"c5":0.78,"c6":0.52,"c7":0.45,"c8":0.158},
{"t":1272,"a":180,"c1":0.26,"c2":0.48,"c3":0.45,"c4":0.58,"c5":0.76,"c6":0.51,"c7":0.25,"c8":0.115},
{"t":1277,"a":90,"c1":0.33,"c2":0.57,"c3":0.56,"c4":0.62,"c5":0.82,"c6":0.54,"c7":0.57,"c8":0.178},
{"t":1282,"a":0,"c1":0.29,"c2":0.52,"c3":0.50,"c4":0.52,"c5":0.70,"c6":0.47,"c7":0.23,"c8":0.112},
{"t":1287,"a":90,"c1":0.31,"c2":0.55,"c3":0.54,"c4":0.66,"c5":0.86,"c6":0.57,"c7":0.45,"c8":0.158},
{"t":1292,"a":180,"c1":0.25,"c2":0.47,"c3":0.44,"c4":0.51,"c5":0.68,"c6":0.46,"c7":0.26,"c8":0.118},
{"t":1297,"a":90,"c1":0.29,"c2":0.53,"c3":0.51,"c4":0.60,"c5":0.78,"c6":0.52,"c7":0.36,"c8":0.14},
{"t":1302,"a":0,"c1":0.26,"c2":0.48,"c3":0.45,"c4":0.55,"c5":0.72,"c6":0.49,"c7":0.25,"c8":0.115},
{"t":1307,"a":90,"c1":0.33,"c2":0.57,"c3":0.56,"c4":0.70,"c5":0.92,"c6":0.60,"c7":0.57,"c8":0.178},
{"t":1312,"a":180,"c1":0.27,"c2":0.50,"c3":0.47,"c4":0.52,"c5":0.70,"c6":0.47,"c7":0.23,"c8":0.112},
{"t":1317,"a":90,"c1":0.35,"c2":0.60,"c3":0.59,"c4":0.66,"c5":0.86,"c6":0.57,"c7":0.45,"c8":0.158},
{"t":1322,"a":0,"c1":0.29,"c2":0.52,"c3":0.50,"c4":0.58,"c5":0.76,"c6":0.51,"c7":0.25,"c8":0.115},
{"t":1327,"a":90,"c1":0.31,"c2":0.55,"c3":0.54,"c4":0.62,"c5":0.82,"c6":0.54,"c7":0.57,"c8":0.178},
{"t":1332,"a":180,"c1":0.26,"c2":0.48,"c3":0.45,"c4":0.51,"c5":0.68,"c6":0.46,"c7":0.23,"c8":0.112},
{"t":1337,"a":90,"c1":0.33,"c2":0.57,"c3":0.56,"c4":0.60,"c5":0.78,"c6":0.52,"c7":0.45,"c8":0.158},
{"t":1342,"a":0,"c1":0.25,"c2":0.47,"c3":0.44,"c4":0.52,"c5":0.70,"c6":0.47,"c7":0.26,"c8":0.118},
{"t":1347,"a":90,"c1":0.29,"c2":0.53,"c3":0.51,"c4":0.66,"c5":0.86,"c6":0.57,"c7":0.36,"c8":0.14},
{"t":1352,"a":180,"c1":0.29,"c2":0.52,"c3":0.50,"c4":0.55,"c5":0.72,"c6":0.49,"c7":0.25,"c8":0.115},
{"t":1357,"a":90,"c1":0.31,"c2":0.55,"c3":0.54,"c4":0.70,"c5":0.92,"c6":0.60,"c7":0.57,"c8":0.178},
{"t":1362,"a":0,"c1":0.27,"c2":0.50,"c3":0.47,"c4":0.58,"c5":0.76,"c6":0.51,"c7":0.23,"c8":0.112},
{"t":1367,"a":90,"c1":0.35,"c2":0.60,"c3":0.59,"c4":0.62,"c5":0.82,"c6":0.54,"c7":0.45,"c8":0.158},
{"t":1372,"a":180,"c1":0.25,"c2":0.47,"c3":0.44,"c4":0.52,"c5":0.70,"c6":0.47,"c7":0.23,"c8":0.112},
{"t":1377,"a":90,"c1":0.29,"c2":0.53,"c3":0.51,"c4":0.66,"c5":0.86,"c6":0.57,"c7":0.68,"c8":0.197},
{"t":1382,"a":0,"c1":0.26,"c2":0.48,"c3":0.45,"c4":0.51,"c5":0.68,"c6":0.46,"c7":0.25,"c8":0.115},
{"t":1387,"a":90,"c1":0.33,"c2":0.57,"c3":0.56,"c4":0.60,"c5":0.78,"c6":0.52,"c7":0.57,"c8":0.178},
{"t":1392,"a":180,"c1":0.29,"c2":0.52,"c3":0.50,"c4":0.58,"c5":0.76,"c6":0.51,"c7":0.23,"c8":0.112},
{"t":1397,"a":90,"c1":0.31,"c2":0.55,"c3":0.54,"c4":0.62,"c5":0.82,"c6":0.54,"c7":0.45,"c8":0.158},
{"t":1402,"a":0,"c1":0.27,"c2":0.50,"c3":0.47,"c4":0.55,"c5":0.72,"c6":0.49,"c7":0.26,"c8":0.118},
{"t":1407,"a":90,"c1":0.35,"c2":0.60,"c3":0.59,"c4":0.70,"c5":0.92,"c6":0.60,"c7":0.36,"c8":0.14},
{"t":1412,"a":180,"c1":0.25,"c2":0.47,"c3":0.44,"c4":0.51,"c5":0.68,"c6":0.46,"c7":0.25,"c8":0.115},
{"t":1417,"a":90,"c1":0.29,"c2":0.53,"c3":0.51,"c4":0.60,"c5":0.78,"c6":0.52,"c7":0.57,"c8":0.178},
{"t":1422,"a":0,"c1":0.26,"c2":0.48,"c3":0.45,"c4":0.52,"c5":0.70,"c6":0.47,"c7":0.23,"c8":0.112},
{"t":1427,"a":90,"c1":0.33,"c2":0.57,"c3":0.56,"c4":0.66,"c5":0.86,"c6":0.57,"c7":0.68,"c8":0.197},
{"t":1432,"a":180,"c1":0.29,"c2":0.52,"c3":0.50,"c4":0.58,"c5":0.76,"c6":0.51,"c7":0.25,"c8":0.115},
{"t":1437,"a":90,"c1":0.31,"c2":0.55,"c3":0.54,"c4":0.62,"c5":0.82,"c6":0.54,"c7":0.57,"c8":0.178},
{"t":1442,"a":0,"c1":0.25,"c2":0.47,"c3":0.44,"c4":0.55,"c5":0.72,"c6":0.49,"c7":0.23,"c8":0.112},
{"t":1447,"a":90,"c1":0.29,"c2":0.53,"c3":0.51,"c4":0.70,"c5":0.92,"c6":0.60,"c7":0.45,"c8":0.158},
{"t":1452,"a":180,"c1":0.26,"c2":0.48,"c3":0.45,"c4":0.51,"c5":0.68,"c6":0.46,"c7":0.23,"c8":0.112},
{"t":1457,"a":90,"c1":0.33,"c2":0.57,"c3":0.56,"c4":0.60,"c5":0.78,"c6":0.52,"c7":0.68,"c8":0.197},
{"t":1462,"a":0,"c1":0.27,"c2":0.50,"c3":0.47,"c4":0.52,"c5":0.70,"c6":0.47,"c7":0.25,"c8":0.115},
{"t":1467,"a":90,"c1":0.35,"c2":0.60,"c3":0.59,"c4":0.66,"c5":0.86,"c6":0.57,"c7":0.57,"c8":0.178},
{"t":1472,"a":180,"c1":0.29,"c2":0.52,"c3":0.50,"c4":0.58,"c5":0.76,"c6":0.51,"c7":0.26,"c8":0.118},
{"t":1477,"a":90,"c1":0.31,"c2":0.55,"c3":0.54,"c4":0.62,"c5":0.82,"c6":0.54,"c7":0.36,"c8":0.14},
{"t":1482,"a":0,"c1":0.25,"c2":0.47,"c3":0.44,"c4":0.51,"c5":0.68,"c6":0.46,"c7":0.23,"c8":0.112},
{"t":1487,"a":90,"c1":0.29,"c2":0.53,"c3":0.51,"c4":0.60,"c5":0.78,"c6":0.52,"c7":0.68,"c8":0.197},
{"t":1492,"a":180,"c1":0.26,"c2":0.48,"c3":0.45,"c4":0.52,"c5":0.70,"c6":0.47,"c7":0.23,"c8":0.112},
{"t":1497,"a":90,"c1":0.33,"c2":0.57,"c3":0.56,"c4":0.66,"c5":0.86,"c6":0.57,"c7":0.45,"c8":0.158},
{"t":1502,"a":0,"c1":0.29,"c2":0.52,"c3":0.50,"c4":0.58,"c5":0.76,"c6":0.51,"c7":0.25,"c8":0.115},
{"t":1507,"a":90,"c1":0.31,"c2":0.55,"c3":0.54,"c4":0.62,"c5":0.82,"c6":0.54,"c7":0.57,"c8":0.178},
{"t":1512,"a":180,"c1":0.27,"c2":0.50,"c3":0.47,"c4":0.55,"c5":0.72,"c6":0.49,"c7":0.23,"c8":0.112},
{"t":1517,"a":90,"c1":0.35,"c2":0.60,"c3":0.59,"c4":0.70,"c5":0.92,"c6":0.60,"c7":0.68,"c8":0.197},
{"t":1522,"a":0,"c1":0.25,"c2":0.47,"c3":0.44,"c4":0.51,"c5":0.68,"c6":0.46,"c7":0.25,"c8":0.115},
{"t":1527,"a":90,"c1":0.29,"c2":0.53,"c3":0.51,"c4":0.60,"c5":0.78,"c6":0.52,"c7":0.57,"c8":0.178},
{"t":1532,"a":180,"c1":0.29,"c2":0.52,"c3":0.50,"c4":0.52,"c5":0.70,"c6":0.47,"c7":0.23,"c8":0.112},
{"t":1537,"a":90,"c1":0.31,"c2":0.55,"c3":0.54,"c4":0.66,"c5":0.86,"c6":0.57,"c7":0.68,"c8":0.197},
{"t":1542,"a":0,"c1":0.26,"c2":0.48,"c3":0.45,"c4":0.51,"c5":0.68,"c6":0.46,"c7":0.23,"c8":0.112},
{"t":1547,"a":90,"c1":0.33,"c2":0.57,"c3":0.56,"c4":0.60,"c5":0.78,"c6":0.52,"c7":0.45,"c8":0.158},
{"t":1552,"a":180,"c1":0.25,"c2":0.47,"c3":0.44,"c4":0.52,"c5":0.70,"c6":0.47,"c7":0.23,"c8":0.112},
{"t":1557,"a":90,"c1":0.29,"c2":0.53,"c3":0.51,"c4":0.66,"c5":0.86,"c6":0.57,"c7":0.68,"c8":0.197},
{"t":1562,"a":0,"c1":0.27,"c2":0.50,"c3":0.47,"c4":0.55,"c5":0.72,"c6":0.49,"c7":0.25,"c8":0.115},
{"t":1567,"a":90,"c1":0.35,"c2":0.60,"c3":0.59,"c4":0.70,"c5":0.92,"c6":0.60,"c7":0.57,"c8":0.178},
{"t":1572,"a":180,"c1":0.26,"c2":0.48,"c3":0.45,"c4":0.58,"c5":0.76,"c6":0.51,"c7":0.26,"c8":0.118},
{"t":1577,"a":90,"c1":0.33,"c2":0.57,"c3":0.56,"c4":0.62,"c5":0.82,"c6":0.54,"c7":0.36,"c8":0.14},
{"t":1582,"a":0,"c1":0.29,"c2":0.52,"c3":0.50,"c4":0.58,"c5":0.76,"c6":0.51,"c7":0.23,"c8":0.112},
{"t":1587,"a":90,"c1":0.31,"c2":0.55,"c3":0.54,"c4":0.62,"c5":0.82,"c6":0.54,"c7":0.68,"c8":0.197},
{"t":1592,"a":180,"c1":0.25,"c2":0.47,"c3":0.44,"c4":0.51,"c5":0.68,"c6":0.46,"c7":0.25,"c8":0.115},
{"t":1597,"a":90,"c1":0.29,"c2":0.53,"c3":0.51,"c4":0.60,"c5":0.78,"c6":0.52,"c7":0.57,"c8":0.178},
{"t":1602,"a":0,"c1":0.26,"c2":0.48,"c3":0.45,"c4":0.52,"c5":0.70,"c6":0.47,"c7":0.23,"c8":0.112},
{"t":1607,"a":90,"c1":0.33,"c2":0.57,"c3":0.56,"c4":0.66,"c5":0.86,"c6":0.57,"c7":0.45,"c8":0.158},
{"t":1612,"a":180,"c1":0.27,"c2":0.50,"c3":0.47,"c4":0.55,"c5":0.72,"c6":0.49,"c7":0.23,"c8":0.112},
{"t":1617,"a":90,"c1":0.35,"c2":0.60,"c3":0.59,"c4":0.70,"c5":0.92,"c6":0.60,"c7":0.68,"c8":0.197},
{"t":1622,"a":0,"c1":0.29,"c2":0.52,"c3":0.50,"c4":0.58,"c5":0.76,"c6":0.51,"c7":0.23,"c8":0.112},
{"t":1627,"a":90,"c1":0.31,"c2":0.55,"c3":0.54,"c4":0.62,"c5":0.82,"c6":0.54,"c7":0.68,"c8":0.197},
{"t":1632,"a":180,"c1":0.26,"c2":0.48,"c3":0.45,"c4":0.51,"c5":0.68,"c6":0.46,"c7":0.25,"c8":0.115},
{"t":1637,"a":90,"c1":0.33,"c2":0.57,"c3":0.56,"c4":0.60,"c5":0.78,"c6":0.52,"c7":0.57,"c8":0.178},
{"t":1642,"a":0,"c1":0.25,"c2":0.47,"c3":0.44,"c4":0.52,"c5":0.70,"c6":0.47,"c7":0.26,"c8":0.118},
{"t":1647,"a":90,"c1":0.29,"c2":0.53,"c3":0.51,"c4":0.66,"c5":0.86,"c6":0.57,"c7":0.36,"c8":0.14},
{"t":1652,"a":180,"c1":0.29,"c2":0.52,"c3":0.50,"c4":0.55,"c5":0.72,"c6":0.49,"c7":0.23,"c8":0.112},
{"t":1657,"a":90,"c1":0.31,"c2":0.55,"c3":0.54,"c4":0.70,"c5":0.92,"c6":0.60,"c7":0.68,"c8":0.197},
{"t":1662,"a":0,"c1":0.27,"c2":0.50,"c3":0.47,"c4":0.58,"c5":0.76,"c6":0.51,"c7":0.23,"c8":0.112},
{"t":1667,"a":90,"c1":0.35,"c2":0.60,"c3":0.59,"c4":0.62,"c5":0.82,"c6":0.54,"c7":0.45,"c8":0.158},
{"t":1672,"a":180,"c1":0.26,"c2":0.48,"c3":0.45,"c4":0.52,"c5":0.70,"c6":0.47,"c7":0.25,"c8":0.115},
{"t":1677,"a":90,"c1":0.33,"c2":0.57,"c3":0.56,"c4":0.66,"c5":0.86,"c6":0.57,"c7":0.57,"c8":0.178},
{"t":1682,"a":0,"c1":0.26,"c2":0.48,"c3":0.45,"c4":0.52,"c5":0.70,"c6":0.47,"c7":0.23,"c8":0.112},
{"t":1687,"a":90,"c1":0.33,"c2":0.57,"c3":0.56,"c4":0.66,"c5":0.86,"c6":0.57,"c7":0.68,"c8":0.197},
{"t":1692,"a":180,"c1":0.29,"c2":0.52,"c3":0.50,"c4":0.58,"c5":0.76,"c6":0.51,"c7":0.25,"c8":0.115},
{"t":1697,"a":90,"c1":0.31,"c2":0.55,"c3":0.54,"c4":0.62,"c5":0.82,"c6":0.54,"c7":0.57,"c8":0.178},
{"t":1702,"a":0,"c1":0.27,"c2":0.50,"c3":0.47,"c4":0.55,"c5":0.72,"c6":0.49,"c7":0.23,"c8":0.112},
{"t":1707,"a":90,"c1":0.35,"c2":0.60,"c3":0.59,"c4":0.70,"c5":0.92,"c6":0.60,"c7":0.45,"c8":0.158},
{"t":1712,"a":180,"c1":0.25,"c2":0.47,"c3":0.44,"c4":0.51,"c5":0.68,"c6":0.46,"c7":0.23,"c8":0.112},
{"t":1717,"a":90,"c1":0.29,"c2":0.53,"c3":0.51,"c4":0.60,"c5":0.78,"c6":0.52,"c7":0.68,"c8":0.197},
{"t":1722,"a":0,"c1":0.26,"c2":0.48,"c3":0.45,"c4":0.52,"c5":0.70,"c6":0.47,"c7":0.25,"c8":0.115},
{"t":1727,"a":90,"c1":0.33,"c2":0.57,"c3":0.56,"c4":0.66,"c5":0.86,"c6":0.57,"c7":0.57,"c8":0.178},
{"t":1732,"a":180,"c1":0.29,"c2":0.52,"c3":0.50,"c4":0.58,"c5":0.76,"c6":0.51,"c7":0.23,"c8":0.112},
{"t":1737,"a":90,"c1":0.31,"c2":0.55,"c3":0.54,"c4":0.62,"c5":0.82,"c6":0.54,"c7":0.68,"c8":0.197},
{"t":1742,"a":0,"c1":0.25,"c2":0.47,"c3":0.44,"c4":0.55,"c5":0.72,"c6":0.49,"c7":0.23,"c8":0.112},
{"t":1747,"a":90,"c1":0.29,"c2":0.53,"c3":0.51,"c4":0.70,"c5":0.92,"c6":0.60,"c7":0.45,"c8":0.158},
{"t":1752,"a":180,"c1":0.26,"c2":0.48,"c3":0.45,"c4":0.51,"c5":0.68,"c6":0.46,"c7":0.26,"c8":0.118},
{"t":1757,"a":90,"c1":0.33,"c2":0.57,"c3":0.56,"c4":0.60,"c5":0.78,"c6":0.52,"c7":0.36,"c8":0.14},
{"t":1762,"a":0,"c1":0.27,"c2":0.50,"c3":0.47,"c4":0.52,"c5":0.70,"c6":0.47,"c7":0.23,"c8":0.112},
{"t":1767,"a":90,"c1":0.35,"c2":0.60,"c3":0.59,"c4":0.66,"c5":0.86,"c6":0.57,"c7":0.68,"c8":0.197},
{"t":1772,"a":180,"c1":0.29,"c2":0.52,"c3":0.50,"c4":0.58,"c5":0.76,"c6":0.51,"c7":0.25,"c8":0.115},
{"t":1777,"a":90,"c1":0.31,"c2":0.55,"c3":0.54,"c4":0.62,"c5":0.82,"c6":0.54,"c7":0.57,"c8":0.178},
{"t":1782,"a":0,"c1":0.25,"c2":0.47,"c3":0.44,"c4":0.51,"c5":0.68,"c6":0.46,"c7":0.23,"c8":0.112},
{"t":1787,"a":90,"c1":0.29,"c2":0.53,"c3":0.51,"c4":0.60,"c5":0.78,"c6":0.52,"c7":0.68,"c8":0.197},
{"t":1792,"a":180,"c1":0.26,"c2":0.48,"c3":0.45,"c4":0.52,"c5":0.70,"c6":0.47,"c7":0.23,"c8":0.112},
{"t":1797,"a":90,"c1":0.33,"c2":0.57,"c3":0.56,"c4":0.66,"c5":0.86,"c6":0.57,"c7":0.45,"c8":0.158},
{"t":1802,"a":0,"c1":0.29,"c2":0.52,"c3":0.50,"c4":0.58,"c5":0.76,"c6":0.51,"c7":0.25,"c8":0.115},
{"t":1807,"a":90,"c1":0.31,"c2":0.55,"c3":0.54,"c4":0.62,"c5":0.82,"c6":0.54,"c7":0.57,"c8":0.178},
{"t":1812,"a":180,"c1":0.27,"c2":0.50,"c3":0.47,"c4":0.55,"c5":0.72,"c6":0.49,"c7":0.23,"c8":0.112},
{"t":1817,"a":90,"c1":0.35,"c2":0.60,"c3":0.59,"c4":0.70,"c5":0.92,"c6":0.60,"c7":0.68,"c8":0.197}
  ]},
  "spacing": 14,
  "bounds": "flush",
  "hconcat": [
    {
      "width": 41, "height": 695,
      "layer": [
        {"mark": {"type": "line", "color": "#ff0000", "strokeWidth": 0.9, "clip": true},
         "encoding": {
           "x": {"field": "a", "type": "quantitative", "scale": {"domain": [0, 180], "reverse": true, "nice": false, "zero": false},
                 "axis": {"orient": "bottom", "values": [0, 22.5, 45, 67.5, 90, 112.5, 135, 157.5, 180], "labelExpr": "datum.value == 0 || datum.value == 180 ? format(datum.value, '.1f') : ''", "labelOffset": {"condition": {"test": "datum.value == 180", "value": 7}, "value": -5}, "labelPadding": 26, "title": "ANGd", "titleAngle": 180, "titleX": 20.5, "titleY": 11, "titleAlign": "center", "titleBaseline": "middle"}},
           "y": {"field": "t", "type": "quantitative", "scale": {"domain": [0, 1800], "nice": false, "zero": false},
                 "axis": {"orient": "left", "values": [0,60,120,180,240,300,360,420,480,540,600,660,720,780,840,900,960,1020,1080,1140,1200,1260,1320,1380,1440,1500,1560,1620,1680,1740,1800], "tickSize": {"condition": {"test": "datum.value % 600 == 0", "value": -10}, "value": -3}, "title": "22.5 (deg)/div"}},
           "order": {"field": "t"}}},
        {"mark": {"type": "line", "opacity": 0},
         "encoding": {
           "x": {"field": "a", "type": "quantitative", "scale": {"domain": [0, 180], "reverse": true, "nice": false, "zero": false},
                 "axis": {"orient": "top", "values": [0, 22.5, 45, 67.5, 90, 112.5, 135, 157.5, 180], "title": null}},
           "y": {"field": "t", "type": "quantitative", "scale": {"domain": [0, 1800], "nice": false, "zero": false},
                 "axis": {"orient": "right", "values": [0,60,120,180,240,300,360,420,480,540,600,660,720,780,840,900,960,1020,1080,1140,1200,1260,1320,1380,1440,1500,1560,1620,1680,1740,1800], "tickSize": {"condition": {"test": "datum.value % 600 == 0", "value": -10}, "value": -3}, "title": null}},
           "order": {"field": "t"}}},
        {"mark": {"type": "line", "opacity": 0},
         "encoding": {
           "x": {"field": "a", "type": "quantitative", "scale": {"domain": [0, 180], "reverse": true, "nice": false, "zero": false}, "axis": null},
           "y": {"field": "t", "type": "quantitative", "scale": {"domain": [0, 1800], "nice": false, "zero": false},
                 "axis": {"orient": "left", "ticks": false, "labels": false, "title": "2026 08/13 02:00:22UT - 2026 08/13 02:30:21UT", "titleAlign": "right", "titleY": 3}},
           "order": {"field": "t"}}}
      ],
      "resolve": {"axis": {"x": "independent", "y": "independent"}}
    },
    {
      "width": 41, "height": 695,
      "layer": [
        {"mark": {"type": "line", "color": "#ff0000", "strokeWidth": 0.9, "clip": true},
         "encoding": {
           "x": {"field": "c1", "type": "quantitative", "scale": {"domain": [0.2, 0.4], "reverse": true, "nice": false, "zero": false},
                 "axis": {"orient": "bottom", "values": [0.2, 0.23, 0.26, 0.29, 0.32, 0.35, 0.38, 0.4], "labelExpr": "datum.value == 0.2 || datum.value == 0.4 ? format(datum.value, '.1f') : ''", "labelOffset": {"condition": {"test": "datum.value == 0.4", "value": 7}, "value": -5}, "labelPadding": 26, "title": "CH1(V)", "titleAngle": 180, "titleX": 20.5, "titleY": 11, "titleAlign": "center", "titleBaseline": "middle"}},
           "y": {"field": "t", "type": "quantitative", "scale": {"domain": [0, 1800], "nice": false, "zero": false},
                 "axis": {"orient": "left", "values": [0,60,120,180,240,300,360,420,480,540,600,660,720,780,840,900,960,1020,1080,1140,1200,1260,1320,1380,1440,1500,1560,1620,1680,1740,1800], "tickSize": {"condition": {"test": "datum.value % 600 == 0", "value": -10}, "value": -3}, "title": "0.03 (V)/div"}},
           "order": {"field": "t"}}},
        {"mark": {"type": "line", "opacity": 0},
         "encoding": {
           "x": {"field": "c1", "type": "quantitative", "scale": {"domain": [0.2, 0.4], "reverse": true, "nice": false, "zero": false},
                 "axis": {"orient": "top", "values": [0.2, 0.23, 0.26, 0.29, 0.32, 0.35, 0.38, 0.4], "title": null}},
           "y": {"field": "t", "type": "quantitative", "scale": {"domain": [0, 1800], "nice": false, "zero": false},
                 "axis": {"orient": "right", "values": [0,60,120,180,240,300,360,420,480,540,600,660,720,780,840,900,960,1020,1080,1140,1200,1260,1320,1380,1440,1500,1560,1620,1680,1740,1800], "tickSize": {"condition": {"test": "datum.value % 600 == 0", "value": -10}, "value": -3}, "title": null}},
           "order": {"field": "t"}}}
      ],
      "resolve": {"axis": {"x": "independent", "y": "independent"}}
    },
    {
      "width": 41, "height": 695,
      "layer": [
        {"mark": {"type": "line", "color": "#ff0000", "strokeWidth": 0.9, "clip": true},
         "encoding": {
           "x": {"field": "c2", "type": "quantitative", "scale": {"domain": [0.4, 0.7], "reverse": true, "nice": false, "zero": false},
                 "axis": {"orient": "bottom", "values": [0.4, 0.44, 0.48, 0.52, 0.56, 0.6, 0.64, 0.68, 0.7], "labelExpr": "datum.value == 0.4 || datum.value == 0.7 ? format(datum.value, '.1f') : ''", "labelOffset": {"condition": {"test": "datum.value == 0.7", "value": 7}, "value": -5}, "labelPadding": 26, "title": "CH2(V)", "titleAngle": 180, "titleX": 20.5, "titleY": 11, "titleAlign": "center", "titleBaseline": "middle"}},
           "y": {"field": "t", "type": "quantitative", "scale": {"domain": [0, 1800], "nice": false, "zero": false},
                 "axis": {"orient": "left", "values": [0,60,120,180,240,300,360,420,480,540,600,660,720,780,840,900,960,1020,1080,1140,1200,1260,1320,1380,1440,1500,1560,1620,1680,1740,1800], "tickSize": {"condition": {"test": "datum.value % 600 == 0", "value": -10}, "value": -3}, "title": "0.04 (V)/div"}},
           "order": {"field": "t"}}},
        {"mark": {"type": "line", "opacity": 0},
         "encoding": {
           "x": {"field": "c2", "type": "quantitative", "scale": {"domain": [0.4, 0.7], "reverse": true, "nice": false, "zero": false},
                 "axis": {"orient": "top", "values": [0.4, 0.44, 0.48, 0.52, 0.56, 0.6, 0.64, 0.68, 0.7], "title": null}},
           "y": {"field": "t", "type": "quantitative", "scale": {"domain": [0, 1800], "nice": false, "zero": false},
                 "axis": {"orient": "right", "values": [0,60,120,180,240,300,360,420,480,540,600,660,720,780,840,900,960,1020,1080,1140,1200,1260,1320,1380,1440,1500,1560,1620,1680,1740,1800], "tickSize": {"condition": {"test": "datum.value % 600 == 0", "value": -10}, "value": -3}, "title": null}},
           "order": {"field": "t"}}}
      ],
      "resolve": {"axis": {"x": "independent", "y": "independent"}}
    },
    {
      "width": 41, "height": 695,
      "layer": [
        {"mark": {"type": "line", "color": "#ff0000", "strokeWidth": 0.9, "clip": true},
         "encoding": {
           "x": {"field": "c3", "type": "quantitative", "scale": {"domain": [0.3, 0.7], "reverse": true, "nice": false, "zero": false},
                 "axis": {"orient": "bottom", "values": [0.3, 0.35, 0.4, 0.45, 0.5, 0.55, 0.6, 0.65, 0.7], "labelExpr": "datum.value == 0.3 || datum.value == 0.7 ? format(datum.value, '.1f') : ''", "labelOffset": {"condition": {"test": "datum.value == 0.7", "value": 7}, "value": -5}, "labelPadding": 26, "title": "CH3(V)", "titleAngle": 180, "titleX": 20.5, "titleY": 11, "titleAlign": "center", "titleBaseline": "middle"}},
           "y": {"field": "t", "type": "quantitative", "scale": {"domain": [0, 1800], "nice": false, "zero": false},
                 "axis": {"orient": "left", "values": [0,60,120,180,240,300,360,420,480,540,600,660,720,780,840,900,960,1020,1080,1140,1200,1260,1320,1380,1440,1500,1560,1620,1680,1740,1800], "tickSize": {"condition": {"test": "datum.value % 600 == 0", "value": -10}, "value": -3}, "title": "0.05 (V)/div"}},
           "order": {"field": "t"}}},
        {"mark": {"type": "line", "opacity": 0},
         "encoding": {
           "x": {"field": "c3", "type": "quantitative", "scale": {"domain": [0.3, 0.7], "reverse": true, "nice": false, "zero": false},
                 "axis": {"orient": "top", "values": [0.3, 0.35, 0.4, 0.45, 0.5, 0.55, 0.6, 0.65, 0.7], "title": null}},
           "y": {"field": "t", "type": "quantitative", "scale": {"domain": [0, 1800], "nice": false, "zero": false},
                 "axis": {"orient": "right", "values": [0,60,120,180,240,300,360,420,480,540,600,660,720,780,840,900,960,1020,1080,1140,1200,1260,1320,1380,1440,1500,1560,1620,1680,1740,1800], "tickSize": {"condition": {"test": "datum.value % 600 == 0", "value": -10}, "value": -3}, "title": null}},
           "order": {"field": "t"}}}
      ],
      "resolve": {"axis": {"x": "independent", "y": "independent"}}
    },
    {
      "width": 41, "height": 695,
      "layer": [
        {"mark": {"type": "line", "color": "#ff0000", "strokeWidth": 0.9, "clip": true},
         "encoding": {
           "x": {"field": "c4", "type": "quantitative", "scale": {"domain": [0.4, 0.9], "reverse": true, "nice": false, "zero": false},
                 "axis": {"orient": "bottom", "values": [0.4, 0.47, 0.54, 0.61, 0.68, 0.75, 0.82, 0.89, 0.9], "labelExpr": "datum.value == 0.4 || datum.value == 0.9 ? format(datum.value, '.1f') : ''", "labelOffset": {"condition": {"test": "datum.value == 0.9", "value": 7}, "value": -5}, "labelPadding": 26, "title": "CH4(V)", "titleAngle": 180, "titleX": 20.5, "titleY": 11, "titleAlign": "center", "titleBaseline": "middle"}},
           "y": {"field": "t", "type": "quantitative", "scale": {"domain": [0, 1800], "nice": false, "zero": false},
                 "axis": {"orient": "left", "values": [0,60,120,180,240,300,360,420,480,540,600,660,720,780,840,900,960,1020,1080,1140,1200,1260,1320,1380,1440,1500,1560,1620,1680,1740,1800], "tickSize": {"condition": {"test": "datum.value % 600 == 0", "value": -10}, "value": -3}, "title": "0.07 (V)/div"}},
           "order": {"field": "t"}}},
        {"mark": {"type": "line", "opacity": 0},
         "encoding": {
           "x": {"field": "c4", "type": "quantitative", "scale": {"domain": [0.4, 0.9], "reverse": true, "nice": false, "zero": false},
                 "axis": {"orient": "top", "values": [0.4, 0.47, 0.54, 0.61, 0.68, 0.75, 0.82, 0.89, 0.9], "title": null}},
           "y": {"field": "t", "type": "quantitative", "scale": {"domain": [0, 1800], "nice": false, "zero": false},
                 "axis": {"orient": "right", "values": [0,60,120,180,240,300,360,420,480,540,600,660,720,780,840,900,960,1020,1080,1140,1200,1260,1320,1380,1440,1500,1560,1620,1680,1740,1800], "tickSize": {"condition": {"test": "datum.value % 600 == 0", "value": -10}, "value": -3}, "title": null}},
           "order": {"field": "t"}}}
      ],
      "resolve": {"axis": {"x": "independent", "y": "independent"}}
    },
    {
      "width": 41, "height": 695,
      "layer": [
        {"mark": {"type": "line", "color": "#ff0000", "strokeWidth": 0.9, "clip": true},
         "encoding": {
           "x": {"field": "c5", "type": "quantitative", "scale": {"domain": [0.6, 1.6], "reverse": true, "nice": false, "zero": false},
                 "axis": {"orient": "bottom", "values": [0.6, 0.73, 0.86, 0.99, 1.12, 1.25, 1.38, 1.51, 1.6], "labelExpr": "datum.value == 0.6 || datum.value == 1.6 ? format(datum.value, '.1f') : ''", "labelOffset": {"condition": {"test": "datum.value == 1.6", "value": 7}, "value": -5}, "labelPadding": 26, "title": "CH5(V)", "titleAngle": 180, "titleX": 20.5, "titleY": 11, "titleAlign": "center", "titleBaseline": "middle"}},
           "y": {"field": "t", "type": "quantitative", "scale": {"domain": [0, 1800], "nice": false, "zero": false},
                 "axis": {"orient": "left", "values": [0,60,120,180,240,300,360,420,480,540,600,660,720,780,840,900,960,1020,1080,1140,1200,1260,1320,1380,1440,1500,1560,1620,1680,1740,1800], "tickSize": {"condition": {"test": "datum.value % 600 == 0", "value": -10}, "value": -3}, "title": "0.13 (V)/div"}},
           "order": {"field": "t"}}},
        {"mark": {"type": "line", "opacity": 0},
         "encoding": {
           "x": {"field": "c5", "type": "quantitative", "scale": {"domain": [0.6, 1.6], "reverse": true, "nice": false, "zero": false},
                 "axis": {"orient": "top", "values": [0.6, 0.73, 0.86, 0.99, 1.12, 1.25, 1.38, 1.51, 1.6], "title": null}},
           "y": {"field": "t", "type": "quantitative", "scale": {"domain": [0, 1800], "nice": false, "zero": false},
                 "axis": {"orient": "right", "values": [0,60,120,180,240,300,360,420,480,540,600,660,720,780,840,900,960,1020,1080,1140,1200,1260,1320,1380,1440,1500,1560,1620,1680,1740,1800], "tickSize": {"condition": {"test": "datum.value % 600 == 0", "value": -10}, "value": -3}, "title": null}},
           "order": {"field": "t"}}}
      ],
      "resolve": {"axis": {"x": "independent", "y": "independent"}}
    },
    {
      "width": 41, "height": 695,
      "layer": [
        {"mark": {"type": "line", "color": "#ff0000", "strokeWidth": 0.9, "clip": true},
         "encoding": {
           "x": {"field": "c6", "type": "quantitative", "scale": {"domain": [0.4, 0.9], "reverse": true, "nice": false, "zero": false},
                 "axis": {"orient": "bottom", "values": [0.4, 0.47, 0.54, 0.61, 0.68, 0.75, 0.82, 0.89, 0.9], "labelExpr": "datum.value == 0.4 || datum.value == 0.9 ? format(datum.value, '.1f') : ''", "labelOffset": {"condition": {"test": "datum.value == 0.9", "value": 7}, "value": -5}, "labelPadding": 26, "title": "CH6(V)", "titleAngle": 180, "titleX": 20.5, "titleY": 11, "titleAlign": "center", "titleBaseline": "middle"}},
           "y": {"field": "t", "type": "quantitative", "scale": {"domain": [0, 1800], "nice": false, "zero": false},
                 "axis": {"orient": "left", "values": [0,60,120,180,240,300,360,420,480,540,600,660,720,780,840,900,960,1020,1080,1140,1200,1260,1320,1380,1440,1500,1560,1620,1680,1740,1800], "tickSize": {"condition": {"test": "datum.value % 600 == 0", "value": -10}, "value": -3}, "title": "0.07 (V)/div"}},
           "order": {"field": "t"}}},
        {"mark": {"type": "line", "opacity": 0},
         "encoding": {
           "x": {"field": "c6", "type": "quantitative", "scale": {"domain": [0.4, 0.9], "reverse": true, "nice": false, "zero": false},
                 "axis": {"orient": "top", "values": [0.4, 0.47, 0.54, 0.61, 0.68, 0.75, 0.82, 0.89, 0.9], "title": null}},
           "y": {"field": "t", "type": "quantitative", "scale": {"domain": [0, 1800], "nice": false, "zero": false},
                 "axis": {"orient": "right", "values": [0,60,120,180,240,300,360,420,480,540,600,660,720,780,840,900,960,1020,1080,1140,1200,1260,1320,1380,1440,1500,1560,1620,1680,1740,1800], "tickSize": {"condition": {"test": "datum.value % 600 == 0", "value": -10}, "value": -3}, "title": null}},
           "order": {"field": "t"}}}
      ],
      "resolve": {"axis": {"x": "independent", "y": "independent"}}
    },
    {
      "width": 41, "height": 695,
      "layer": [
        {"mark": {"type": "line", "color": "#ff0000", "strokeWidth": 0.9, "clip": true},
         "encoding": {
           "x": {"field": "c7", "type": "quantitative", "scale": {"domain": [0.2, 0.7], "reverse": true, "nice": false, "zero": false},
                 "axis": {"orient": "bottom", "values": [0.2, 0.26, 0.32, 0.38, 0.44, 0.5, 0.56, 0.62, 0.68, 0.7], "labelExpr": "datum.value == 0.2 || datum.value == 0.7 ? format(datum.value, '.1f') : ''", "labelOffset": {"condition": {"test": "datum.value == 0.7", "value": 7}, "value": -5}, "labelPadding": 26, "title": "CH7(V)", "titleAngle": 180, "titleX": 20.5, "titleY": 11, "titleAlign": "center", "titleBaseline": "middle"}},
           "y": {"field": "t", "type": "quantitative", "scale": {"domain": [0, 1800], "nice": false, "zero": false},
                 "axis": {"orient": "left", "values": [0,60,120,180,240,300,360,420,480,540,600,660,720,780,840,900,960,1020,1080,1140,1200,1260,1320,1380,1440,1500,1560,1620,1680,1740,1800], "tickSize": {"condition": {"test": "datum.value % 600 == 0", "value": -10}, "value": -3}, "title": "0.06 (V)/div"}},
           "order": {"field": "t"}}},
        {"mark": {"type": "line", "opacity": 0},
         "encoding": {
           "x": {"field": "c7", "type": "quantitative", "scale": {"domain": [0.2, 0.7], "reverse": true, "nice": false, "zero": false},
                 "axis": {"orient": "top", "values": [0.2, 0.26, 0.32, 0.38, 0.44, 0.5, 0.56, 0.62, 0.68, 0.7], "title": null}},
           "y": {"field": "t", "type": "quantitative", "scale": {"domain": [0, 1800], "nice": false, "zero": false},
                 "axis": {"orient": "right", "values": [0,60,120,180,240,300,360,420,480,540,600,660,720,780,840,900,960,1020,1080,1140,1200,1260,1320,1380,1440,1500,1560,1620,1680,1740,1800], "tickSize": {"condition": {"test": "datum.value % 600 == 0", "value": -10}, "value": -3}, "title": null}},
           "order": {"field": "t"}}}
      ],
      "resolve": {"axis": {"x": "independent", "y": "independent"}}
    },
    {
      "width": 41, "height": 695,
      "layer": [
        {"mark": {"type": "line", "color": "#ff0000", "strokeWidth": 0.9, "clip": true},
         "encoding": {
           "x": {"field": "c8", "type": "quantitative", "scale": {"domain": [0.1, 0.2], "reverse": true, "nice": false, "zero": false},
                 "axis": {"orient": "bottom", "values": [0.1, 0.11, 0.12, 0.13, 0.14, 0.15, 0.16, 0.17, 0.18, 0.19, 0.2], "labelExpr": "datum.value == 0.1 || datum.value == 0.2 ? format(datum.value, '.1f') : ''", "labelOffset": {"condition": {"test": "datum.value == 0.2", "value": 7}, "value": -5}, "labelPadding": 26, "title": "CH8(V)", "titleAngle": 180, "titleX": 20.5, "titleY": 11, "titleAlign": "center", "titleBaseline": "middle"}},
           "y": {"field": "t", "type": "quantitative", "scale": {"domain": [0, 1800], "nice": false, "zero": false},
                 "axis": {"orient": "left", "values": [0,60,120,180,240,300,360,420,480,540,600,660,720,780,840,900,960,1020,1080,1140,1200,1260,1320,1380,1440,1500,1560,1620,1680,1740,1800], "tickSize": {"condition": {"test": "datum.value % 600 == 0", "value": -10}, "value": -3}, "title": "0.01 (V)/div"}},
           "order": {"field": "t"}}},
        {"mark": {"type": "line", "opacity": 0},
         "encoding": {
           "x": {"field": "c8", "type": "quantitative", "scale": {"domain": [0.1, 0.2], "reverse": true, "nice": false, "zero": false},
                 "axis": {"orient": "top", "values": [0.1, 0.11, 0.12, 0.13, 0.14, 0.15, 0.16, 0.17, 0.18, 0.19, 0.2], "title": null}},
           "y": {"field": "t", "type": "quantitative", "scale": {"domain": [0, 1800], "nice": false, "zero": false},
                 "axis": {"orient": "right", "values": [0,60,120,180,240,300,360,420,480,540,600,660,720,780,840,900,960,1020,1080,1140,1200,1260,1320,1380,1440,1500,1560,1620,1680,1740,1800], "tickSize": {"condition": {"test": "datum.value % 600 == 0", "value": -10}, "value": -3},
                          "labels": true, "labelExpr": "datum.value % 600 == 0 ? '02' + format(datum.value / 60, '02d') : ''", "labelAngle": 270, "labelAlign": "center", "labelBaseline": "top", "labelPadding": 15, "labelFontSize": 13, "labelOverlap": false, "labelBound": false, "labelFlush": false,
                          "title": "TIME(UT)", "titleAngle": 270, "titleX": 11, "titleY": 357, "titleAlign": "center", "titleBaseline": "top", "titleFontSize": 13}},
           "order": {"field": "t"}}}
      ],
      "resolve": {"axis": {"x": "independent", "y": "independent"}}
    }
  ],
  "config": {
    "font": "Liberation Sans",
    "view": {"stroke": "black", "strokeWidth": 2},
    "title": {"font": "Liberation Sans", "fontWeight": "normal", "color": "black"},
    "axis": {"domain": false, "grid": false, "tickColor": "black", "tickWidth": 1.5, "labelColor": "black", "titleColor": "black", "labelFont": "Liberation Sans", "titleFont": "Liberation Sans", "titleFontWeight": "normal"},
    "axisBottom": {"labelAngle": 270, "labelAlign": "right", "labelBaseline": "middle", "labelFlush": false, "labelOverlap": false, "labelBound": false, "labelFontSize": 10, "tickSize": -4, "titleFontSize": 11},
    "axisTop": {"labels": false, "tickSize": -4},
    "axisLeft": {"labels": false, "titleAngle": 270, "titleX": -7.5, "titleY": 692, "titleAlign": "left", "titleBaseline": "middle", "titleFontSize": 10},
    "axisRight": {"labels": false}
  }
}
